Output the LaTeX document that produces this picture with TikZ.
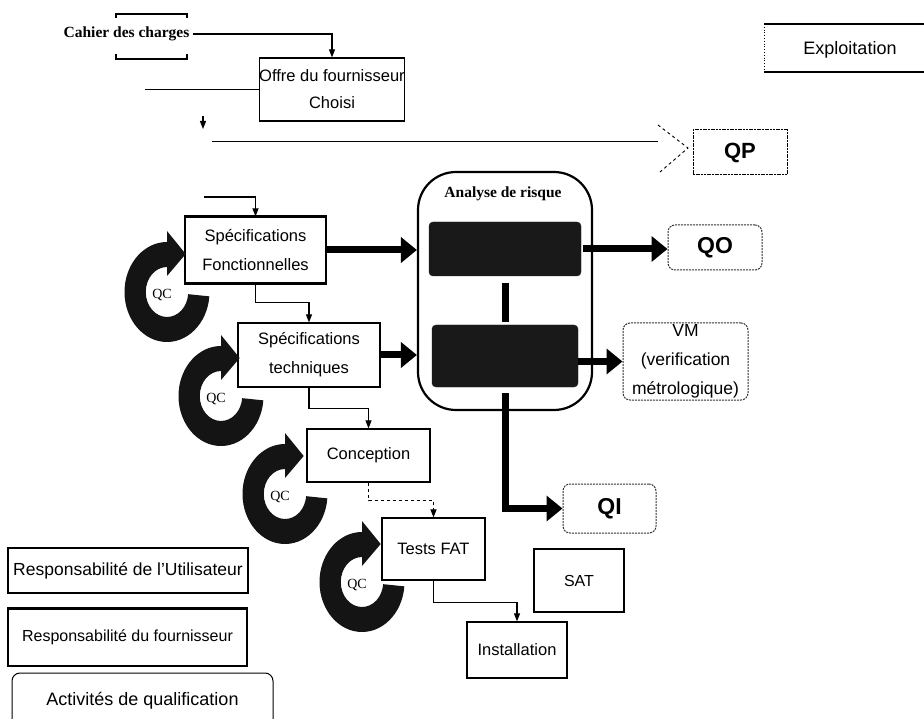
\documentclass[tikz,border=0pt]{standalone}
\usepackage{fontspec}
\setmainfont{Liberation Sans}
\newfontfamily\serifface{Liberation Serif}
\usetikzlibrary{arrows.meta,calc}

\tikzset{
  pics/qcloop/.style={code={
    % thick open ring turning clockwise, ending in a head that points right
    \begin{scope}[yscale=-1, xscale=0.85]
      \fill[black!92] (-5:50) arc[start angle=-5, end angle=-270, radius=50]
        -- (0,25) arc[start angle=90, end angle=355, radius=25] -- cycle;
      \fill[black!92] (0,61) -- (22,38) -- (0,16) -- cycle;
    \end{scope}
    \node[font=\serifface\fontsize{14}{14}\selectfont, inner sep=0pt] (-label) at (-5,3) {QC};
  }}
}

\begin{document}
\begin{tikzpicture}[x=1pt,y=-1pt,
  lbl/.style={font=\fontsize{16.5}{29}\selectfont, align=center},
  box/.style={draw, line width=1.2pt, inner sep=0pt, lbl},
  softbox/.style={draw=black!80, line width=1pt, dash pattern=on 2pt off 1pt,
    rounded corners=7pt, inner sep=0pt, font=\bfseries\fontsize{23}{26}\selectfont},
  link/.style={line width=1.1pt},
  linkarrow/.style={link, -{Triangle[length=8pt,width=6pt]}},
  bigarrow/.style={line width=7pt, -{Triangle[length=16pt,width=25pt]}},
  bigline/.style={line width=7pt},
  darkpanel/.style={fill=black!90, draw=black!90, rounded corners=4pt, inner sep=0pt},
  heading/.style={font=\serifface\bfseries\fontsize{15.5}{16}\selectfont, inner sep=0pt},
]
\useasboundingbox (0,0) rectangle (924,719);

% ---- top: specifications from the customer and the supplier
\node[heading] (cahier) at (126.5,34) {Cahier des charges};
\draw[line width=1.8pt] (116,18) -- (116,14) -- (187,14) -- (187,18);
\draw[line width=1.8pt] (116,54) -- (116,59) -- (187,59) -- (187,54);

\node[box, minimum width=132pt, minimum height=63pt, font=\fontsize{16.5}{27}\selectfont]
  (offre) at (332,89.5) {Offre du fournisseur\\Choisi};
\draw[linkarrow] ([xshift=3pt]cahier.east) -| (offre.north);
\draw[link] (offre.west) -- ++(-114,0);

\coordinate (dropA) at (203,116);
\coordinate (dropB) at (203,129);
\draw[linkarrow] (dropA) -- (dropB);

% ---- QP branch
\node[draw, line width=1pt, dash pattern=on 2pt off 0.7pt, minimum width=94pt,
  minimum height=45pt, inner sep=0pt, font=\bfseries\fontsize{22}{24}\selectfont]
  (qp) at (740,152.5) {QP};
\coordinate (qpstart) at (212,141);
\coordinate (chevtip) at (688,148);
\draw[line width=0.9pt] (qpstart) -- (658,141);
\draw[line width=0.9pt, dashed] (658,125) -- (chevtip) -- (660,172);

% ---- Exploitation
\node[font=\fontsize{18}{20}\selectfont, inner sep=0pt] (exploit) at (850,50) {Exploitation};
\draw[line width=2.2pt] (764,24) -- (924,24);
\draw[line width=2.2pt] (764,72) -- (924,72);
\draw[line width=0.8pt, dotted] (764,24) -- (764,72);

% ---- development chain
\node[box, minimum width=141pt, minimum height=66pt] (specF) at (255.5,250)
  {Spécifications\\Fonctionnelles};
\draw[line width=2.5pt] (specF.north west) -- (specF.north east);
\draw[line width=2.5pt] (specF.south west) -- (specF.south east);
\coordinate (fstart) at (204,197);
\draw[linkarrow] (fstart) -| (specF.north);

\node[box, minimum width=142pt, minimum height=64pt] (specT) at (309,355)
  {Spécifications\\techniques};
\node[box, minimum width=123pt, minimum height=53pt] (concep) at (368.5,455.5) {Conception};
\node[box, minimum width=103pt, minimum height=62pt] (tests) at (433.5,549) {Tests FAT};
\node[box, minimum width=100pt, minimum height=56pt] (install) at (517,650) {Installation};
\node[box, minimum width=90pt, minimum height=63pt, font=\fontsize{16}{18}\selectfont]
  (sat) at (579,580.5) {SAT};

\draw[linkarrow] (specF.south) -- ++(0,19) -| (specT.north);
\draw[linkarrow] (specT.south) -- ++(0,21) -| (concep.north);
\draw[linkarrow, dashed] (concep.south) -- ++(0,18) -| (tests.north);
\draw[linkarrow] (tests.south) -- ++(0,22) -| (install.north);

% ---- quality-control loops
\pic (qc1) at (167,292) {qcloop};
\pic (qc2) at (221,396) {qcloop};
\pic (qc3) at (285,494) {qcloop};
\pic (qc4) at (362,582) {qcloop};

% ---- risk analysis
\node[draw, line width=2.2pt, rounded corners=38pt, minimum width=174pt,
  minimum height=238pt, inner sep=0pt] (analyse) at (505,291) {};
\node[heading] (arlabel) at (503,194) {Analyse de risque};
\node[darkpanel, minimum width=152pt, minimum height=54pt] (dark1) at (505,249) {};
\node[darkpanel, minimum width=146pt, minimum height=62pt] (dark2) at (505,356) {};
\draw[bigline, shorten <=7pt, shorten >=3pt] (dark1.south) -- (dark2.north);

% ---- qualification outputs
\node[softbox, minimum width=94pt, minimum height=45pt] (qo) at (715,247.5) {QO};
\node[softbox, minimum width=93pt, minimum height=49pt] (qi) at (609.5,508.5) {QI};
\node[softbox, minimum width=125pt, minimum height=77pt,
  font=\fontsize{17.5}{29}\selectfont, align=center] (vm) at (685.5,361.5)
  {VM\\(verification\\métrologique)};

\draw[bigarrow] (specF.east) -- (specF.east -| analyse.west);
\draw[bigarrow] (specT.east) -- (specT.east -| analyse.west);
\draw[bigarrow] ([xshift=2pt]dark1.east) -- (dark1.east -| qo.west);
\draw[bigarrow] (vm.west -| dark2.east) -- (vm.west);
\draw[bigarrow, shorten <=6pt] (dark2.south) |- (qi.west);

% ---- legend
\node[box, minimum width=240pt, minimum height=45pt, font=\fontsize{17.5}{20}\selectfont]
  (respU) at (128,570.5) {Responsabilité de l'Utilisateur};
\node[box, minimum width=239pt, minimum height=57pt, font=\fontsize{16}{20}\selectfont]
  (respF) at (127.5,637.5) {Responsabilité du fournisseur};
\draw[line width=2pt] (respF.north west) -- (respF.north east);
\node[draw, line width=1pt, rounded corners=8pt, minimum width=261pt, minimum height=56pt,
  inner sep=0pt, font=\fontsize{18}{20}\selectfont] (activ) at (142.5,701)
  {Activités de qualification};

\end{tikzpicture}
\end{document}
